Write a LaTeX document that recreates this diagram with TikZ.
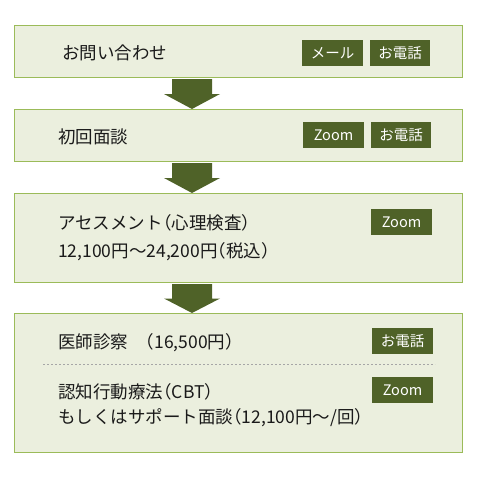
\documentclass[tikz,border=0pt]{standalone}
\usepackage{fontspec}
\setmainfont{Noto Sans CJK JP}
\newfontfamily\hpfont[RawFeature=+halt]{Noto Sans CJK JP}
\newcommand{\lp}{{\hpfont （}}
\newcommand{\rp}{{\hpfont ）}}
\usetikzlibrary{calc}
\definecolor{boxfill}{HTML}{EBEFDE}
\definecolor{boxline}{HTML}{9BBB59}
\definecolor{dark}{HTML}{4F6228}
\definecolor{txt}{HTML}{1A1A1A}
\begin{document}
\begin{tikzpicture}[x=1pt,y=-1pt,
 box/.style={draw=boxline, fill=boxfill, line width=1pt, minimum width=448pt, inner sep=0pt, anchor=north west},
 btn/.style={fill=dark, text=white, minimum height=26pt, inner sep=0pt, font=\fontsize{14.5}{14.5}\selectfont},
 lbl/.style={anchor=west, inner sep=0pt, text=txt, font=\fontsize{17.5}{20}\selectfont},
 arr/.style={fill=dark}]
\useasboundingbox (0,0) rectangle (488,480);
% boxes
\node[box, minimum height=52pt] (b1) at (14,25) {};
\node[box, minimum height=52pt] (b2) at (14,109) {};
\node[box, minimum height=89pt] (b3) at (14,193) {};
\node[box, minimum height=139pt] (b4) at (14,313) {};
% arrows
\foreach \u/\v in {b1/b2, b2/b3, b3/b4}{
  \coordinate (s) at ($(\u.south west)+(178,1)$);
  \coordinate (t) at ($(\v.north west)+(178,0)$);
  \fill[arr] ($(s)+(-20,0)$) -- ($(s)+(20,0)$) -- ($(s)!0.5!(t)+(20,0)$) -- ($(s)!0.5!(t)+(28,0)$)
    -- (t) -- ($(s)!0.5!(t)+(-28,0)$) -- ($(s)!0.5!(t)+(-20,0)$) -- cycle;
}
% labels
\node[lbl] (t1) at (62,53) {お問い合わせ};
\node[lbl] (t2) at (58,137) {初回面談};
\node[lbl] (t3a) at (58,223) {アセスメント\lp 心理検査\rp};
\node[lbl] (t3b) at (58,252) {12,100円～24,200円\lp 税込\rp};
\node[lbl] (t4a) at (58,343) {医師診察　\lp 16,500円\rp};
\node[lbl] (t4b) at (58,392) {認知行動療法\lp CBT\rp};
\node[lbl] (t4c) at (58,418) {もしくはサポート面談\lp 12,100円～/回\rp};
% dashed separator
\coordinate (d1) at (43,364);
\coordinate (d2) at (435,364);
\draw[gray!70, dash pattern=on 2pt off 2pt, line width=0.8pt] (d1) -- (d2);
% buttons
\node[btn, minimum width=61pt] (m1) at (332.5,53) {メール};
\node[btn, minimum width=60pt] (p1) at (400,53) {お電話};
\node[btn, minimum width=61pt] (z2) at (333.5,135) {Zoom};
\node[btn, minimum width=60pt] (p2) at (401,135) {お電話};
\node[btn, minimum width=61pt] (z3) at (401.5,222) {Zoom};
\node[btn, minimum width=61pt] (p4) at (402.5,341) {お電話};
\node[btn, minimum width=61pt] (z4) at (402.5,390) {Zoom};
\end{tikzpicture}
\end{document}
